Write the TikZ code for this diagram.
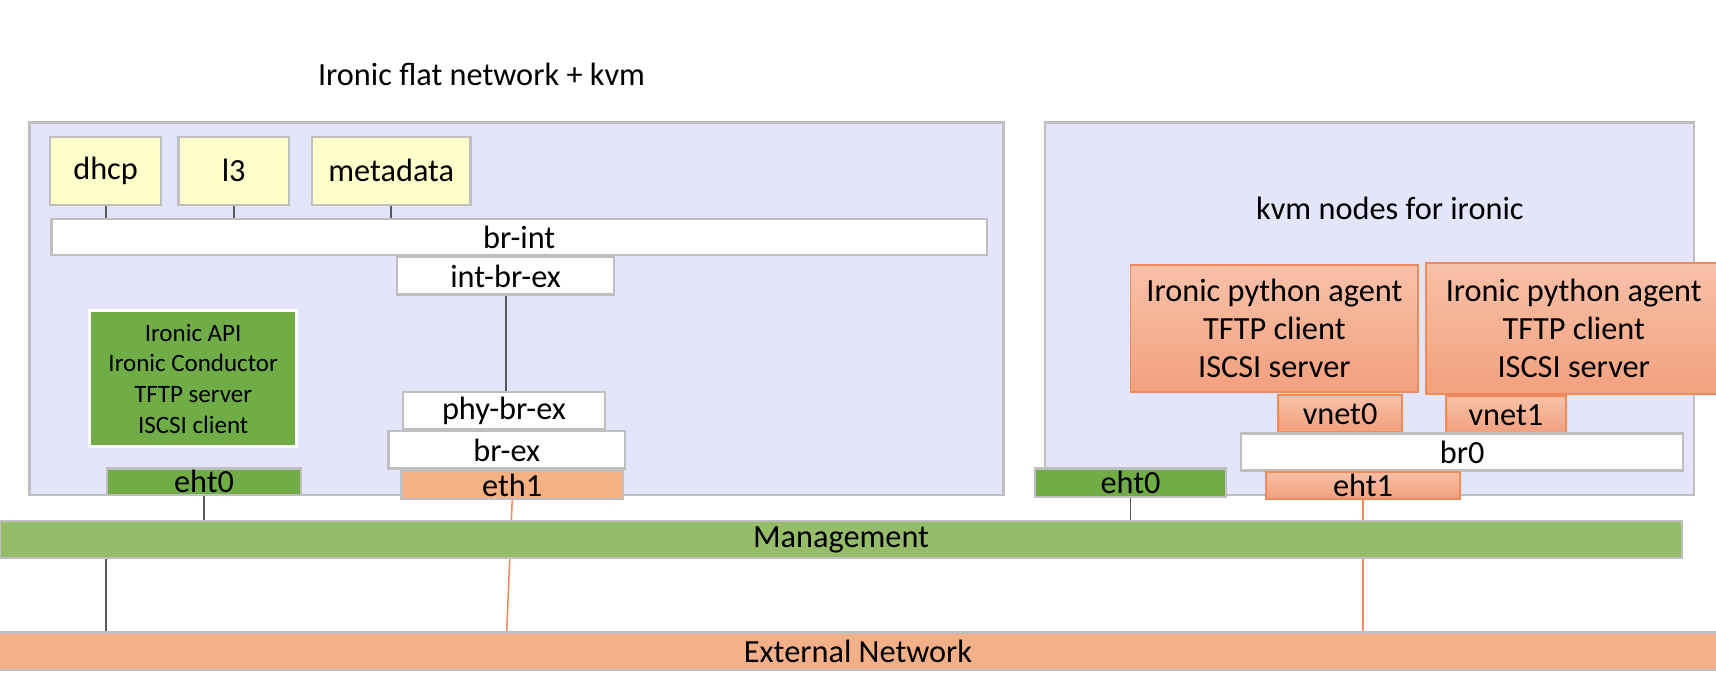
\documentclass[tikz,border=0pt]{standalone}
\usepackage{fontspec}
\setmainfont{Carlito}
\usetikzlibrary{positioning}
\definecolor{lavender}{HTML}{E4E4FA}
\definecolor{boxgray}{HTML}{BFBFBF}
\definecolor{wiregray}{HTML}{595959}
\definecolor{svcyellow}{HTML}{FFFFCC}
\definecolor{portgreen}{HTML}{70AD47}
\definecolor{mgmtgreen}{HTML}{95BC69}
\definecolor{nicsalmon}{HTML}{F4B183}
\definecolor{extsalmon}{HTML}{F3AF87}
\definecolor{vmtop}{HTML}{F8C1A9}
\definecolor{vmbottom}{HTML}{F2A07D}
\definecolor{vmedge}{HTML}{EF8B5B}
\newcommand{\mainsize}{\fontsize{8.4}{9.8}\selectfont}
\newcommand{\apisize}{\fontsize{6.5}{8}\selectfont}
\pgfdeclarelayer{frame}
\pgfdeclarelayer{wire}
\pgfsetlayers{frame,wire,main}
\tikzset{wh/.style 2 args={minimum width=#1*0.1mm,minimum height=#2*0.1mm},
	frame box/.style={draw=boxgray,fill=lavender,line width=0.6pt,inner sep=0pt},
	svc box/.style={draw=boxgray,fill=svcyellow,line width=0.6pt,inner sep=0pt},
	bridge box/.style={draw=boxgray,fill=white,line width=0.6pt,inner sep=0pt},
	port box/.style={draw=boxgray,fill=portgreen,line width=0.6pt,inner sep=0pt},
	nic box/.style={draw=boxgray,fill=nicsalmon,line width=0.6pt,inner sep=0pt},
	vm box/.style={draw=vmedge,top color=vmtop,bottom color=vmbottom,line width=0.5pt,inner sep=0pt,align=center},
	api box/.style={draw=white,fill=portgreen,line width=0.8pt,inner sep=0pt,align=center,font=\apisize},
	net bar/.style={draw=boxgray,line width=0.6pt,inner sep=0pt},
	gray wire/.style={draw=wiregray,line width=0.5pt},
	orange wire/.style={draw=vmedge,line width=0.4pt},
}

\begin{document}
\begin{tikzpicture}[x=0.1mm,y=-0.1mm,font=\mainsize]
	\useasboundingbox (0,0) rectangle (1568,625);
	\node (title) at (440,68) {Ironic flat network + kvm};
	
	\begin{pgfonlayer}{frame}
		\node[frame box,wh={890}{340}] (ctrl) at (472,282) {};
		\node[frame box,wh={593}{340}] (kvm) at (1251.5,282) {};
	\end{pgfonlayer}
	\node (kvmlabel) at (1270,190) {kvm nodes for ironic};
	
	% controller side
	\node[svc box,wh={101}{62}] (dhcp) at (96.5,156) {dhcp};
	\node[svc box,wh={101}{62}] (l3) at (213.5,156) {l3};
	\node[svc box,wh={145}{62}] (metadata) at (357.5,156) {metadata};
	\node[bridge box,wh={855}{33}] (brint) at (474.5,216.5) {br-int};
	\node[bridge box,wh={198}{34},below=0pt of brint,xshift=-1.25mm] (intbrex) {int-br-ex};
	\node[bridge box,wh={185}{34}] (phybrex) at (460.5,375) {phy-br-ex};
	\node[bridge box,wh={216}{34},below=0pt of phybrex,xshift=0.25mm] (brex) {br-ex};
	\node[nic box,wh={202}{26},below=0pt of brex,xshift=0.5mm] (eth1) {eth1};
	\node[api box,wh={189}{124}] (api) at (176.5,346) {Ironic API\\Ironic Conductor\\TFTP server\\ISCSI client};
	\node[port box,wh={177}{24}] (eht0a) at (186.5,440) {eht0};
	
	% kvm side
	\node[vm box,wh={263}{116}] (ipa0) at (1164.5,300) {Ironic python agent\\TFTP client\\ISCSI server};
	\node[vm box,wh={270}{120}] (ipa1) at (1438,300) {Ironic python agent\\TFTP client\\ISCSI server};
	\node[vm box,wh={113}{34}] (vnet0) at (1224.5,378) {vnet0};
	\node[vm box,wh={110}{34}] (vnet1) at (1376,379) {vnet1};
	\node[bridge box,wh={404}{34}] (br0) at (1336,413) {br0};
	\node[vm box,wh={177}{25}] (eht1b) at (1245.5,443.5) {eht1};
	\node[port box,wh={174}{26}] (eht0b) at (1033,441) {eht0};
	
	% networks
	\node[net bar,fill=mgmtgreen,wh={1537}{34}] (mgmt) at (768.5,493) {Management};
	\node[net bar,fill=extsalmon,wh={1570}{34}] (ext) at (784,595) {External Network};
	\coordinate (mgmttap) at (97,0);
	
	\begin{pgfonlayer}{wire}
		\path[gray wire]
		(dhcp.south) edge (dhcp.south |- brint.north)
		(l3.south) edge (l3.south |- brint.north)
		(metadata.south) edge (metadata.south |- brint.north)
		(intbrex.south) edge (intbrex.south |- phybrex.north)
		(eht0a.south) edge (eht0a.south |- mgmt.north)
		(eht0b.south) edge (eht0b.south |- mgmt.north)
		(mgmt.south -| mgmttap) edge (ext.north -| mgmttap);
		\path[orange wire]
		(eth1.south) edge ([xshift=-0.5mm]eth1.south |- ext.north)
		(eht1b.south) edge (eht1b.south |- ext.north);
	\end{pgfonlayer}
\end{tikzpicture}
\end{document}
